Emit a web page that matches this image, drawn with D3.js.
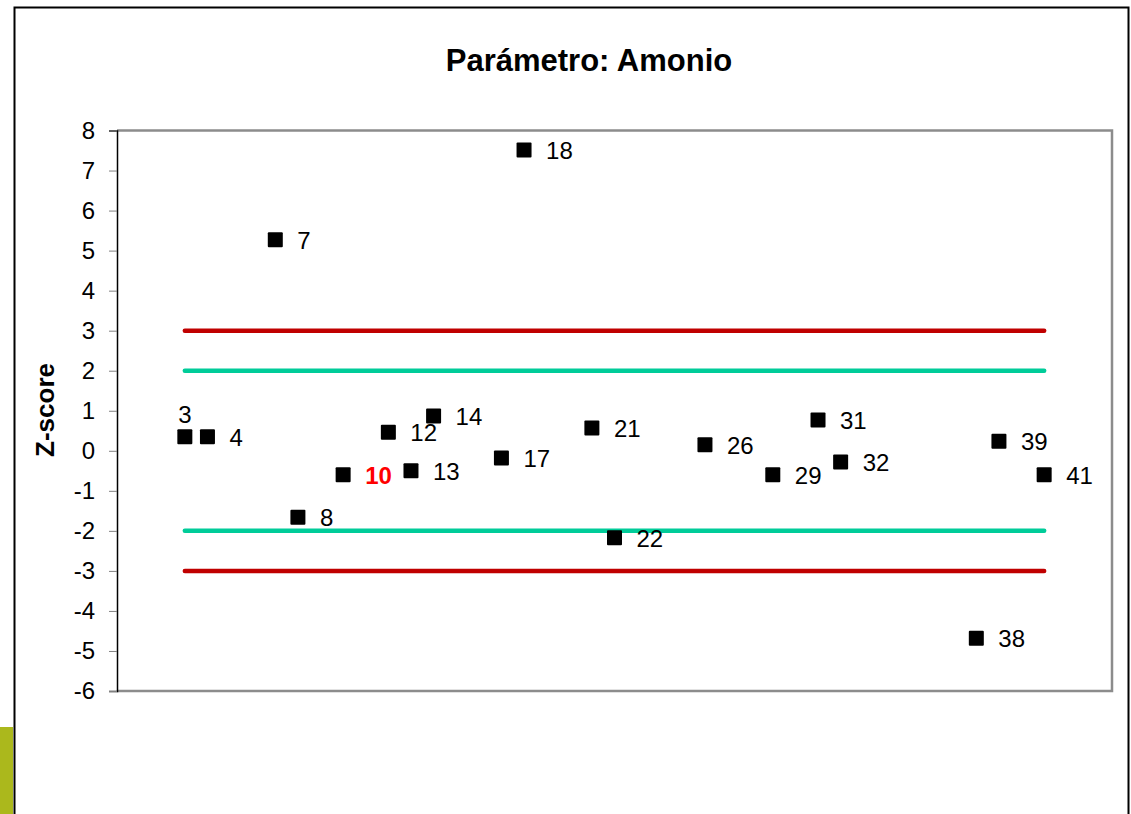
<!DOCTYPE html>
<html>
<head>
<meta charset="utf-8">
<script src="https://cdn.jsdelivr.net/npm/d3@7"></script>
<style>
  body { margin: 0; background: #fff; }
  svg { display: block; font-family: Arial, "Liberation Sans", sans-serif; }
</style>
</head>
<body>
<div id="chart"></div>
<script>
// lab numbers and their z-scores
const labs = [3, 4, 7, 8, 10, 12, 13, 14, 17, 18, 21, 22, 26, 29, 31, 32, 38, 39, 41];
const zScores = [0.35, 0.35, 5.27, -1.66, -0.6, 0.46, -0.5, 0.87, -0.18, 7.51, 0.57, -2.17, 0.15, -0.6, 0.77, -0.28, -4.68, 0.24, -0.6];
const highlightLab = 10;
const yTicks = [8, 7, 6, 5, 4, 3, 2, 1, 0, -1, -2, -3, -4, -5, -6];
const limits = [
  { value: 3, color: "#c00000" },
  { value: 2, color: "#00cc99" },
  { value: -2, color: "#00cc99" },
  { value: -3, color: "#c00000" }
];

let width = 1131;
let height = 814;
let plot = { left: 117, right: 1112, top: 130.5, bottom: 691 };

let svg = d3.select("#chart").append("svg")
  .attr("width", width)
  .attr("height", height);

// green strip at the bottom left
svg.append("rect")
  .attr("x", 0).attr("y", 727)
  .attr("width", 13).attr("height", height - 727)
  .attr("fill", "#abb81c");

// outer chart frame
svg.append("rect")
  .attr("x", 14.5).attr("y", 7.5)
  .attr("width", 1114).attr("height", 900)
  .attr("fill", "none")
  .attr("stroke", "#000")
  .attr("stroke-width", 2);

let x = d3.scaleLinear().domain([0, 44]).range([plot.left, plot.right]);
let y = d3.scaleLinear().domain([-6, 8]).range([plot.bottom, plot.top]);

// plot area border (gray top/right/bottom)
svg.append("path")
  .attr("d", `M${plot.left},${plot.top}H${plot.right}V${plot.bottom}H${plot.left}`)
  .attr("fill", "none")
  .attr("stroke", "#8c8c8c")
  .attr("stroke-width", 2.5);

// y axis
let yAxis = svg.append("g")
  .attr("transform", `translate(${plot.left},0)`)
  .call(d3.axisLeft(y).tickValues(yTicks).tickFormat((d) => String(d)).tickSize(8).tickPadding(14));
yAxis.select(".domain").attr("stroke", "#000").attr("stroke-width", 1.5);
yAxis.selectAll(".tick line").attr("stroke", "#808080");
yAxis.selectAll(".tick text")
  .attr("font-size", 24)
  .attr("fill", "#000")
  .attr("font-family", "Arial, 'Liberation Sans', sans-serif");

// limit lines
svg.append("g")
  .selectAll("line")
  .data(limits)
  .enter()
  .append("line")
  .attr("x1", x(labs[0]))
  .attr("x2", x(labs[labs.length - 1]))
  .attr("y1", (d) => y(d.value))
  .attr("y2", (d) => y(d.value))
  .attr("stroke", (d) => d.color)
  .attr("stroke-width", 4.5)
  .attr("stroke-linecap", "round");

const points = labs.map((lab, i) => ({ lab: lab, z: zScores[i] }));

// markers
let ms = 15;
svg.append("g")
  .selectAll("rect")
  .data(points)
  .enter()
  .append("rect")
  .attr("x", (d) => x(d.lab) - ms / 2)
  .attr("y", (d) => y(d.z) - ms / 2)
  .attr("width", ms)
  .attr("height", ms)
  .attr("rx", 1)
  .attr("fill", "#000");

// labels
svg.append("g")
  .selectAll("text")
  .data(points)
  .enter()
  .append("text")
  .attr("x", (d) => (d.lab === 3 ? x(d.lab) : x(d.lab) + 22))
  .attr("y", (d) => (d.lab === 3 ? y(d.z) - 14 : y(d.z) + 9))
  .attr("text-anchor", (d) => (d.lab === 3 ? "middle" : "start"))
  .attr("font-size", 24)
  .attr("font-weight", (d) => (d.lab === highlightLab ? "bold" : "normal"))
  .attr("fill", (d) => (d.lab === highlightLab ? "#ff0000" : "#000"))
  .text((d) => d.lab);

// title
svg.append("text")
  .attr("x", 589).attr("y", 71)
  .attr("text-anchor", "middle")
  .attr("font-size", 31)
  .attr("font-weight", "bold")
  .text("Parámetro: Amonio");

// y axis title
svg.append("text")
  .attr("transform", "translate(54,410) rotate(-90)")
  .attr("text-anchor", "middle")
  .attr("font-size", 26)
  .attr("font-weight", "bold")
  .text("Z-score");
</script>
</body>
</html>
